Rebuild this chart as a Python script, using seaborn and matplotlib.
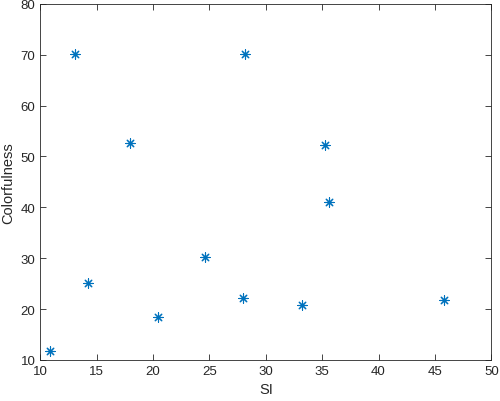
import matplotlib
matplotlib.use("Agg")
import matplotlib.pyplot as plt
import seaborn as sns
import pandas as pd

si = [10.86, 13.08, 14.26, 17.93, 20.41, 24.59, 28.17, 27.96, 33.25, 35.27, 35.6, 45.77]
colorfulness = [11.7, 70.2, 25.2, 52.6, 18.4, 30.3, 70.2, 22.1, 20.8, 52.2, 41.0, 21.7]
df = pd.DataFrame({"SI": si, "Colorfulness": colorfulness})

sns.set_style("white")
plt.rcParams['font.family'] = ['Liberation Sans', 'DejaVu Sans']
fig = plt.figure(figsize=(5, 4.02), dpi=100)
ax = fig.add_axes([40.3/500, 1-361/402, 451/500, 356.3/402])
sns.scatterplot(data=df, x="SI", y="Colorfulness", ax=ax, marker=(8, 2, 0),
                s=45, color="#0072BD", linewidth=0.8, edgecolor="#0072BD")
ax.set_xlim(10, 50)
ax.set_ylim(10, 80)
ax.set_xticks(range(10, 51, 5))
ax.set_yticks(range(10, 81, 10))
for sp in ax.spines.values():
    sp.set_color("#262626")
    sp.set_linewidth(0.6)
ax.tick_params(direction="in", length=4, width=0.6, colors="#262626",
               labelsize=9.5, top=True, right=True, bottom=True, left=True)
ax.tick_params(labelcolor="#262626")
ax.set_xlabel("SI", fontsize=10.5, color="#262626", labelpad=4)
ax.set_ylabel("Colorfulness", fontsize=10.5, color="#262626", labelpad=4)
fig.savefig("out.png", dpi=100)
